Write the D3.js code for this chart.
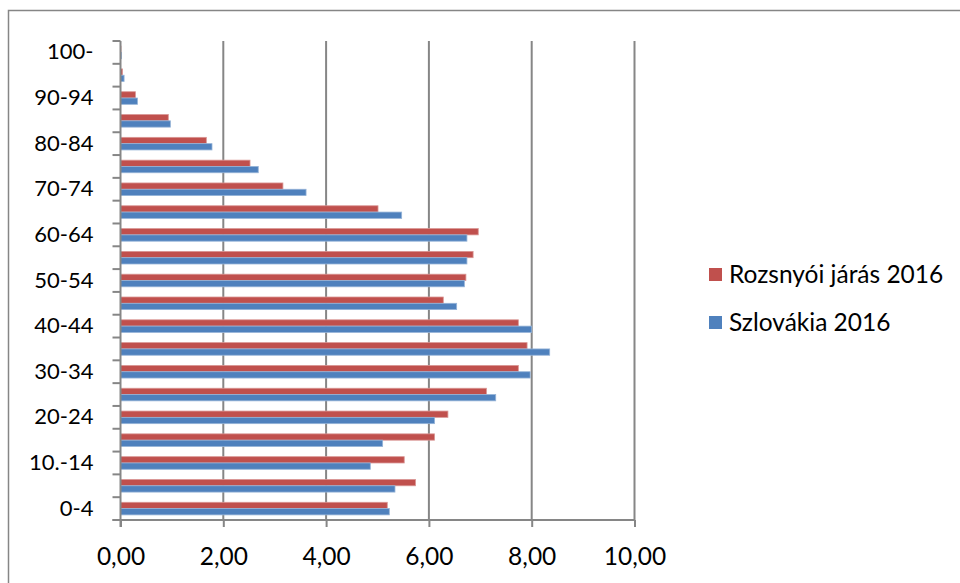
<!DOCTYPE html>
<html>
<head>
<meta charset="utf-8">
<script src="https://cdn.jsdelivr.net/npm/d3@7"></script>
<style>
  html, body { margin: 0; padding: 0; background: #fff; }
  svg { display: block; }
  text { font-family: Lato, "Open Sans", sans-serif; fill: #000; }
</style>
</head>
<body>
<svg id="chart" width="960" height="583"></svg>
<script>
// ---- data ----
const categories = ["0-4","5-9","10.-14","15-19","20-24","25-29","30-34","35-39","40-44","45-49",
                    "50-54","55-59","60-64","65-69","70-74","75-79","80-84","85-89","90-94","95-99","100-"];
const labeledCategories = ["0-4","10.-14","20-24","30-34","40-44","50-54","60-64","70-74","80-84","90-94","100-"];
const seriesNames = ["Rozsnyói járás 2016", "Szlovákia 2016"];
const rozsnyoValues = [5.19, 5.74, 5.52, 6.11, 6.37, 7.12, 7.74, 7.91, 7.74, 6.28,
                       6.72, 6.86, 6.96, 5.01, 3.16, 2.52, 1.67, 0.93, 0.29, 0.04, 0.01];
const szlovakiaValues = [5.23, 5.34, 4.86, 5.10, 6.11, 7.30, 7.97, 8.35, 8.00, 6.54,
                         6.69, 6.74, 6.74, 5.47, 3.61, 2.68, 1.78, 0.97, 0.33, 0.07, 0.02];
const xTicks = [0, 2, 4, 6, 8, 10];
const seriesColors = ["#C0504D", "#4F81BD"];
const edgeColors = ["#D99694", "#95B3D7"];

// ---- layout ----
const svg = d3.select("#chart");
const plot = { left: 120.5, right: 634.5, top: 41, bottom: 520 };
const gridColor = "#868686";

// outer frame (left and top visible)
svg.append("path")
  .attr("d", "M8.5,583 L8.5,10.5 L960,10.5")
  .attr("fill", "none").attr("stroke", gridColor).attr("stroke-width", 1.5);

const x = d3.scaleLinear().domain([0, 10]).range([plot.left, plot.right]);
const y = d3.scaleBand().domain(categories.slice().reverse())
  .range([plot.top, plot.bottom]).padding(0);
const ySub = d3.scaleBand().domain(seriesNames).range([0, y.bandwidth()])
  .paddingInner(0).paddingOuter(0.81);

// gridlines
svg.append("g").selectAll("line")
  .data(xTicks.filter(d => d > 0))
  .join("line")
  .attr("x1", d => x(d)).attr("x2", d => x(d))
  .attr("y1", plot.top).attr("y2", plot.bottom)
  .attr("stroke", gridColor).attr("stroke-width", 2);

// bars
const seriesData = [rozsnyoValues, szlovakiaValues];
seriesNames.forEach((name, si) => {
  svg.append("g").selectAll("rect")
    .data(categories.map((c, i) => ({ c, v: seriesData[si][i] })))
    .join("rect")
    .attr("x", x(0))
    .attr("y", d => y(d.c) + ySub(name))
    .attr("width", d => x(d.v) - x(0))
    .attr("height", ySub.bandwidth())
    .attr("fill", seriesColors[si])
    .attr("stroke", edgeColors[si])
    .attr("stroke-width", 0.8);
});

// x axis
const xAxis = d3.axisBottom(x).tickValues(xTicks).tickSize(7).tickPadding(21)
  .tickFormat(d => d3.format(".2f")(d).replace(".", ","));
const gx = svg.append("g").attr("transform", `translate(0,${plot.bottom})`).call(xAxis);
gx.select(".domain").attr("stroke", gridColor).attr("stroke-width", 2)
  .attr("d", `M${plot.left - 8},0H${plot.right + 0.5}`);
gx.selectAll(".tick line").attr("stroke", gridColor).attr("stroke-width", 2);
gx.selectAll(".tick text").attr("font-size", 24.5).attr("font-family", "Lato, sans-serif").attr("fill", "#000");

// y axis
const yAxis = d3.axisLeft(y).tickSize(0).tickPadding(27)
  .tickFormat(d => labeledCategories.includes(d) ? d : "");
const gy = svg.append("g").attr("transform", `translate(${plot.left},0)`).call(yAxis);
gy.select(".domain").attr("stroke", gridColor).attr("stroke-width", 2)
  .attr("d", `M0,${plot.top}V${plot.bottom + 7}`);
gy.selectAll(".tick text").attr("font-size", 22).attr("font-family", "Lato, sans-serif").attr("fill", "#000");

// category boundary tick marks
const boundaries = categories.map(c => y(c)).concat([plot.bottom]);
svg.append("g").selectAll("line")
  .data(boundaries)
  .join("line")
  .attr("x1", plot.left - 8).attr("x2", plot.left)
  .attr("y1", d => d).attr("y2", d => d)
  .attr("stroke", gridColor).attr("stroke-width", 2);

// legend
const legend = svg.append("g").attr("transform", "translate(709,268)");
seriesNames.forEach((name, i) => {
  const g = legend.append("g").attr("transform", `translate(0,${i * 48})`);
  g.append("rect").attr("width", 13).attr("height", 13).attr("fill", seriesColors[i]);
  g.append("text").attr("x", 20).attr("y", 6.5).attr("dy", "0.36em")
    .attr("font-size", 24.5).text(name);
});
</script>
</body>
</html>
